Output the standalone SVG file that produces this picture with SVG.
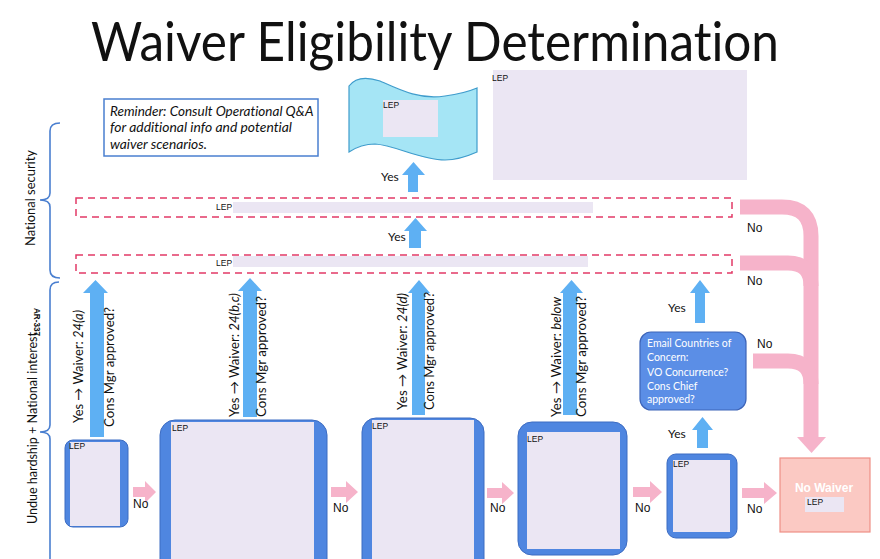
<svg xmlns="http://www.w3.org/2000/svg" width="880" height="559" viewBox="0 0 880 559">
<style>
text{font-variant-ligatures:none}
.t{font-family:Lato,"Open Sans",sans-serif;fill:#111}
.a{font-family:"Liberation Sans",Arial,sans-serif;fill:#111}
.lep{font-family:"Liberation Sans",Arial,sans-serif;font-size:8.5px;fill:#111}
.lav{fill:#ebe6f3}
.box{fill:#4f86e0;stroke:#3d6cc2;stroke-width:1}
.up{fill:#5eb0f3}
.pk{fill:#f6b3ca}
.pkl{fill:none;stroke:#f6b3ca;stroke-width:15}
.dash{fill:none;stroke:#e23a67;stroke-width:1.5;stroke-dasharray:7 5}
.br{fill:none;stroke:#4a7fd0;stroke-width:1.6}
.rot{font-family:Lato,"Open Sans",sans-serif;font-size:13px;fill:#111}
</style>
<rect width="880" height="559" fill="#fff"/>
<text class="t" x="91" y="61" font-size="54" textLength="688" lengthAdjust="spacingAndGlyphs">Waiver Eligibility Determination</text>

<g id="brackets">
<path class="br" d="M60,123 Q50,123 50,131 V193 Q50,200 40,200 Q50,200 50,207 V270 Q50,278 60,278"/>
<text class="rot" transform="rotate(-90 35 198)" x="35" y="198" text-anchor="middle" textLength="96" lengthAdjust="spacingAndGlyphs">National security</text>
<path class="br" d="M59,282 Q50,282 50,290 V425 Q50,432 40,432 Q50,432 50,439 V575"/>
<text class="rot" transform="rotate(-90 37 524)" x="37" y="524" textLength="192" lengthAdjust="spacingAndGlyphs">Undue hardship + National interest</text>
<text class="a" transform="rotate(90 34 308)" x="34" y="308" font-size="9" font-weight="bold" textLength="28" lengthAdjust="spacingAndGlyphs">AR-337</text>
</g>

<g id="reminder">
<rect x="104" y="99" width="214" height="57" fill="#fff" stroke="#4a7fd0" stroke-width="1.5"/>
<text class="t" font-size="12.5" font-style="italic">
<tspan x="110" y="116" textLength="203" lengthAdjust="spacingAndGlyphs">Reminder: Consult Operational Q&amp;A</tspan>
<tspan x="110" y="132" textLength="182" lengthAdjust="spacingAndGlyphs">for additional info and potential</tspan>
<tspan x="110" y="149" textLength="97" lengthAdjust="spacingAndGlyphs">waiver scenarios.</tspan>
</text>
</g>

<g id="flag">
<path d="M349,86 C355,78 365,76 380,81 C400,90 420,100 445,96 C460,94 470,91 477,88 L477,152 C468,156 458,160 445,160 C420,160 395,145 375,144 C362,144 355,148 349,152 Z" fill="#a5e5f5" stroke="#3f9ccc" stroke-width="1.2"/>
<rect class="lav" x="383" y="100" width="55" height="37"/>
<text class="lep" x="383" y="108">LEP</text>
</g>

<g id="lep-top-right">
<rect class="lav" x="493" y="70" width="254" height="110"/>
<text class="lep" x="492" y="81">LEP</text>
</g>

<g id="dashed-1">
<rect class="dash" x="76" y="198" width="656" height="19"/>
<rect class="lav" x="233" y="202" width="360" height="11"/>
<text class="lep" x="216" y="210">LEP</text>
</g>
<g id="dashed-2">
<rect class="dash" x="76" y="255" width="656" height="18"/>
<rect class="lav" x="233" y="256" width="355" height="11"/>
<text class="lep" x="216" y="266">LEP</text>
</g>

<g id="box1">
<rect class="box" x="65" y="440" width="63" height="87" rx="8"/>
<rect class="lav" x="70" y="442" width="50" height="84"/>
<text class="lep" x="69" y="449">LEP</text>
</g>
<g id="box2">
<rect class="box" x="160" y="420" width="167" height="170" rx="15"/>
<rect class="lav" x="171" y="422" width="143" height="170"/>
<text class="lep" x="172" y="431">LEP</text>
</g>
<g id="box3">
<rect class="box" x="362" y="418" width="122" height="170" rx="14"/>
<rect class="lav" x="372" y="420" width="102" height="170"/>
<text class="lep" x="372" y="429">LEP</text>
</g>
<g id="box4">
<rect class="box" x="518" y="422" width="109" height="133" rx="14"/>
<rect class="lav" x="527" y="432" width="93" height="117"/>
<text class="lep" x="527" y="442">LEP</text>
</g>
<g id="box5">
<rect class="box" x="667" y="454" width="70" height="84" rx="9"/>
<rect class="lav" x="673" y="460" width="57" height="72"/>
<text class="lep" x="673" y="467">LEP</text>
</g>

<g id="email">
<rect x="640" y="332" width="106" height="78" rx="11" fill="#5b8ee6" stroke="#3d64b8" stroke-width="1.2"/>
<text font-family="Lato,'Open Sans',sans-serif" font-size="10.5" fill="#fff">
<tspan x="647" y="347">Email Countries of</tspan>
<tspan x="647" y="361">Concern:</tspan>
<tspan x="647" y="376">VO Concurrence?</tspan>
<tspan x="647" y="390">Cons Chief</tspan>
<tspan x="647" y="403">approved?</tspan>
</text>
</g>

<g id="no-waiver">
<rect x="780" y="458" width="90" height="74" fill="#fbc9c3" stroke="#ef8f86" stroke-width="1.2"/>
<text x="824" y="492" text-anchor="middle" font-family="'Liberation Sans',Arial,sans-serif" font-size="12" font-weight="bold" fill="#fff">No Waiver</text>
<rect class="lav" x="805" y="497" width="39" height="15"/>
<text class="lep" x="807" y="505">LEP</text>
</g>

<g id="connectors">
<polygon class="up" points="90,437 90,293 83,293 95.5,280 108,293 104,293 104,437"/>
<polygon class="up" points="243,417 243,291 238,291 250,278 262,291 257,291 257,417"/>
<polygon class="up" points="412,415 412,293 408,293 419,280 430,293 425,293 425,415"/>
<polygon class="up" points="563,415 563,293 560,293 571.5,280 583,293 577,293 577,415"/>
<polygon class="up" points="408,192 408,175 402,175 413.5,162 425,175 418,175 418,192"/>
<polygon class="up" points="409,248 409,231 404,231 415.5,218 427,231 421,231 421,248"/>
<polygon class="up" points="695,323 695,293 690,293 700,280 710,293 705,293 705,323"/>
<polygon class="up" points="697,448 697,430 692,430 702.5,417 713,430 708,430 708,448"/>

<polygon class="pk" points="133,487 145,487 145,481 156,492 145,503 145,497 133,497"/>
<polygon class="pk" points="331,487 346,487 346,481 358,492 346,503 346,497 331,497"/>
<polygon class="pk" points="487,488 502,488 502,482 514,493 502,504 502,498 487,498"/>
<polygon class="pk" points="633,487 650,487 650,481 662,492 650,503 650,497 633,497"/>
<polygon class="pk" points="742,488 764,488 764,482 777,493 764,504 764,498 742,498"/>

<path class="pkl" d="M740,207 H782 Q811,207 811,236 V438"/>
<path class="pkl" d="M740,263 H788 Q811,263 811,286"/>
<path class="pkl" d="M753,361 H788 Q811,361 811,384"/>
<polygon class="pk" points="797,437 826,437 811.5,453"/>
</g>

<g id="labels">
<text class="rot" transform="rotate(-90 83 423)" x="83" y="423" textLength="113" lengthAdjust="spacingAndGlyphs">Yes → Waiver: <tspan font-style="italic">24(a)</tspan></text>
<text class="rot" transform="rotate(-90 114 427)" x="114" y="427" textLength="120" lengthAdjust="spacingAndGlyphs">Cons Mgr approved?</text>
<text class="rot" transform="rotate(-90 239 417)" x="239" y="417" textLength="124" lengthAdjust="spacingAndGlyphs">Yes → Waiver: <tspan font-style="italic">24(b,c)</tspan></text>
<text class="rot" transform="rotate(-90 266 417)" x="266" y="417" textLength="121" lengthAdjust="spacingAndGlyphs">Cons Mgr approved?</text>
<text class="rot" transform="rotate(-90 407 410)" x="407" y="410" textLength="117" lengthAdjust="spacingAndGlyphs">Yes → Waiver: <tspan font-style="italic">24(d)</tspan></text>
<text class="rot" transform="rotate(-90 434 410)" x="434" y="410" textLength="118" lengthAdjust="spacingAndGlyphs">Cons Mgr approved?</text>
<text class="rot" transform="rotate(-90 561 417)" x="561" y="417" textLength="120" lengthAdjust="spacingAndGlyphs">Yes → Waiver: <tspan font-style="italic">below</tspan></text>
<text class="rot" transform="rotate(-90 586 417)" x="586" y="417" textLength="121" lengthAdjust="spacingAndGlyphs">Cons Mgr approved?</text>

<text class="t" font-size="12" x="381" y="181">Yes</text>
<text class="t" font-size="12" x="388" y="241">Yes</text>
<text class="t" font-size="12" x="668" y="312">Yes</text>
<text class="t" font-size="12" x="668" y="438">Yes</text>

<text class="a" font-size="12" x="747" y="232">No</text>
<text class="a" font-size="12" x="747" y="285">No</text>
<text class="a" font-size="12" x="757" y="348">No</text>
<text class="a" font-size="12" x="133" y="508">No</text>
<text class="a" font-size="12" x="333" y="512">No</text>
<text class="a" font-size="12" x="490" y="512">No</text>
<text class="a" font-size="12" x="635" y="512">No</text>
<text class="a" font-size="12" x="747" y="513">No</text>
</g>
</svg>
